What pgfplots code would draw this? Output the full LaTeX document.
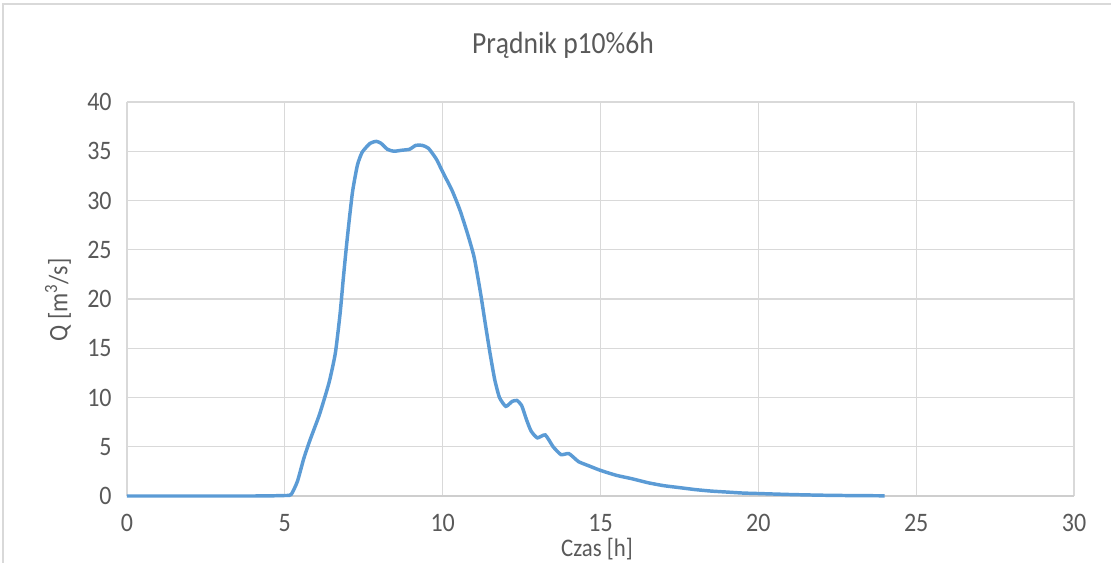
\documentclass[border=0pt]{standalone}
\usepackage{fontspec}
\setmainfont{Carlito}[FakeStretch=0.9]
\usepackage{pgfplots}
\pgfplotsset{compat=1.18}
\definecolor{txt}{HTML}{595959}
\definecolor{gridc}{HTML}{D9D9D9}
\definecolor{serie}{HTML}{5B9BD5}
\begin{document}
\begin{tikzpicture}
\path[use as bounding box] (-95.25pt,-50.25pt) rectangle (738pt,372pt);
\draw[gridc, line width=1.5pt] (-93pt,-60pt) |- (750pt,369pt);
\begin{axis}[
    at={(0pt,0pt)}, anchor=south west,
    scale only axis,
    width=710.25pt, height=295.5pt,
    xmin=0, xmax=30, ymin=0, ymax=40,
    xtick={0,5,...,30}, ytick={0,5,...,40},
    grid=major,
    grid style={gridc, line width=0.9pt},
    axis line style={draw=none},
    major tick length=0pt,
    tick label style={font=\fontsize{20}{22}\selectfont, text=txt},
    /pgf/number format/assume math mode=true,
    xticklabel style={inner sep=0pt, yshift=-13.5pt},
    yticklabel style={xshift=-8pt},
    clip=false,
]
\draw[gridc!80!black!60, line width=1pt] (axis cs:0,0) -- (axis cs:30,0);
\addplot[serie, line width=2.6pt, smooth, tension=0.35] coordinates {
(0,0) (4,0) (5,0.05) (5.2,0.15) (5.4,1.5) (5.6,3.8) (5.8,5.7) (6.1,8.3)
(6.4,11.5) (6.6,14.5) (6.75,18.5) (6.85,22) (6.95,25.3) (7.05,28.3) (7.15,31)
(7.3,33.6) (7.45,34.9) (7.7,35.8) (7.9,36.0) (8.05,35.8) (8.25,35.2) (8.45,35.0)
(8.7,35.1) (8.95,35.2) (9.15,35.6) (9.35,35.6) (9.55,35.3) (9.8,34.2)
(10.0,32.9) (10.3,31) (10.55,29) (10.8,26.5) (11.0,24.2) (11.2,20.6)
(11.35,17.5) (11.5,14.5) (11.65,11.8) (11.8,10.0) (12.0,9.1) (12.2,9.6)
(12.35,9.7) (12.5,9.2) (12.65,7.8) (12.8,6.6) (13.0,5.9) (13.25,6.2)
(13.5,5.0) (13.75,4.2) (14.0,4.3) (14.3,3.5) (14.6,3.1) (15.0,2.6)
(15.5,2.1) (16.0,1.75) (16.5,1.35) (17,1.05) (17.5,0.85) (18,0.65)
(18.5,0.5) (19,0.4) (19.5,0.3) (20,0.25) (21,0.15) (22,0.08) (23,0.04) (24,0.02)
};
\end{axis}
\node[text=txt, font=\fontsize{23}{26}\selectfont] at (327pt,338pt) {Prądnik p10\%6h};
\node[text=txt, inner sep=0pt, font=\fontsize{19}{21}\selectfont] at (352.5pt,-40pt) {Czas [h]};
\node[text=txt, font=\fontsize{20}{22}\selectfont, rotate=90] at (-51.75pt,147pt) {Q [m\textsuperscript{3}/s]};
\end{tikzpicture}
\end{document}
